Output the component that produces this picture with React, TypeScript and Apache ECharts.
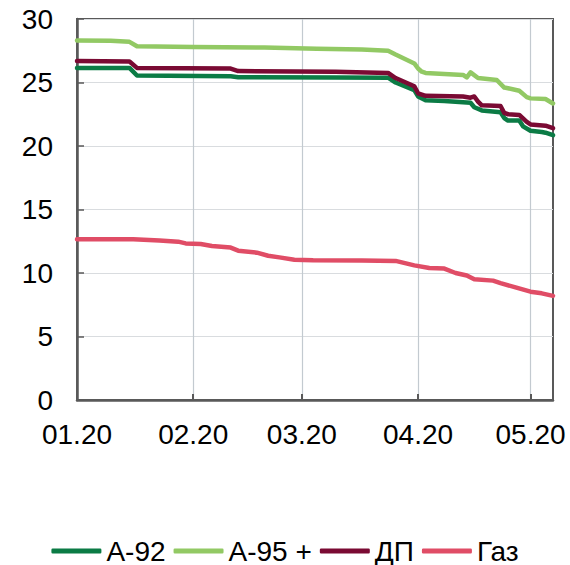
import React, { useEffect, useRef } from "react";
import * as echarts from "echarts";

const monthTicks = ["2020-01-01", "2020-02-01", "2020-03-01", "2020-04-01", "2020-05-01"];
const monthLabels = ["01.20", "02.20", "03.20", "04.20", "05.20"];
const xMin = "2020-01-01";
const xMax = "2020-05-07";
const yMin = 0;
const yMax = 30;
const yStep = 5;

const seriesNames = ["А-92", "А-95 +", "ДП", "Газ"];
const seriesColors = ["#0b7b45", "#92c964", "#7a0a33", "#e04d66"];

const a92: [string, number][] = [
  ["2020-01-01", 26.15], ["2020-01-15", 26.15], ["2020-01-17", 25.55], ["2020-02-11", 25.5],
  ["2020-02-13", 25.42], ["2020-03-10", 25.4], ["2020-03-24", 25.38], ["2020-03-26", 25.0],
  ["2020-03-31", 24.4], ["2020-04-01", 23.9], ["2020-04-03", 23.6], ["2020-04-08", 23.55],
  ["2020-04-15", 23.4], ["2020-04-16", 23.05], ["2020-04-18", 22.8], ["2020-04-23", 22.65],
  ["2020-04-24", 22.2], ["2020-04-25", 22.0], ["2020-04-28", 22.0], ["2020-04-29", 21.55],
  ["2020-05-01", 21.2], ["2020-05-04", 21.1], ["2020-05-05", 21.05], ["2020-05-07", 20.85],
];

const a95: [string, number][] = [
  ["2020-01-01", 28.3], ["2020-01-10", 28.28], ["2020-01-15", 28.2], ["2020-01-17", 27.85],
  ["2020-02-01", 27.8], ["2020-02-20", 27.75], ["2020-03-05", 27.65], ["2020-03-17", 27.6],
  ["2020-03-24", 27.5], ["2020-03-26", 27.2], ["2020-03-31", 26.5], ["2020-04-01", 26.1],
  ["2020-04-02", 25.85], ["2020-04-03", 25.75], ["2020-04-13", 25.6], ["2020-04-14", 25.4],
  ["2020-04-15", 25.8], ["2020-04-17", 25.35], ["2020-04-22", 25.2], ["2020-04-24", 24.6],
  ["2020-04-25", 24.55], ["2020-04-28", 24.35], ["2020-04-30", 23.85], ["2020-05-01", 23.75],
  ["2020-05-05", 23.7], ["2020-05-07", 23.35],
];

const dp: [string, number][] = [
  ["2020-01-01", 26.7], ["2020-01-15", 26.65], ["2020-01-17", 26.15], ["2020-02-11", 26.1],
  ["2020-02-13", 25.9], ["2020-03-10", 25.85], ["2020-03-24", 25.75], ["2020-03-26", 25.35],
  ["2020-03-31", 24.7], ["2020-04-01", 24.15], ["2020-04-03", 23.95], ["2020-04-13", 23.9],
  ["2020-04-15", 23.8], ["2020-04-16", 23.9], ["2020-04-17", 23.5], ["2020-04-18", 23.2],
  ["2020-04-23", 23.15], ["2020-04-24", 22.6], ["2020-04-25", 22.5], ["2020-04-28", 22.45],
  ["2020-04-30", 21.9], ["2020-05-01", 21.7], ["2020-05-05", 21.6], ["2020-05-07", 21.4],
];

const gas: [string, number][] = [
  ["2020-01-01", 12.65], ["2020-01-16", 12.65], ["2020-01-23", 12.55], ["2020-01-28", 12.47],
  ["2020-01-30", 12.33], ["2020-02-03", 12.28], ["2020-02-06", 12.13], ["2020-02-11", 12.0],
  ["2020-02-13", 11.76], ["2020-02-18", 11.6], ["2020-02-21", 11.36], ["2020-02-24", 11.23],
  ["2020-02-28", 11.05], ["2020-03-04", 11.0], ["2020-03-17", 10.98], ["2020-03-26", 10.95],
  ["2020-03-31", 10.6], ["2020-04-04", 10.4], ["2020-04-08", 10.35], ["2020-04-11", 10.0],
  ["2020-04-14", 9.8], ["2020-04-16", 9.5], ["2020-04-21", 9.4], ["2020-04-23", 9.2],
  ["2020-04-27", 8.87], ["2020-05-01", 8.53], ["2020-05-04", 8.4], ["2020-05-07", 8.2],
];

const allSeries = [a92, a95, dp, gas];

const FONT = "'Liberation Sans', Arial, sans-serif";

function ts(s: string): number {
  const [y, m, d] = s.split("-").map(Number);
  return new Date(y, m - 1, d).getTime();
}

export default function App() {
  const ref = useRef<HTMLDivElement>(null);

  useEffect(() => {
    document.body.style.margin = "0";
    if (!ref.current) return;
    const chart = echarts.init(ref.current, undefined, { renderer: "svg" });
    const tickValues = monthTicks.map(ts);
    chart.setOption({
      animation: false,
      textStyle: { fontFamily: FONT },
      grid: {
        left: 77,
        right: 17,
        top: 19,
        bottom: 165,
        show: true,
        borderColor: "#595959",
        borderWidth: 2,
        backgroundColor: "transparent",
      },
      legend: {
        data: seriesNames,
        left: "center",
        top: 537,
        padding: 0,
        icon: "roundRect",
        itemWidth: 50,
        itemHeight: 5,
        itemGap: 8,
        textStyle: { fontSize: 28, color: "#000", fontFamily: FONT, lineHeight: 24 },
      },
      xAxis: {
        type: "value",
        min: ts(xMin),
        max: ts(xMax),
        axisLine: { show: true, lineStyle: { color: "#595959", width: 2.5 } },
        axisTick: { show: true, inside: true, length: 6, customValues: tickValues, lineStyle: { color: "#595959", width: 2 } },
        splitLine: { show: true, lineStyle: { color: "#c3cad0", width: 1.2 } },
        axisLabel: {
          customValues: tickValues,
          fontSize: 28,
          color: "#000",
          fontFamily: FONT,
          margin: 20,
          formatter: (v: number) => monthLabels[new Date(v).getMonth()],
        },
      },
      yAxis: {
        type: "value",
        min: yMin,
        max: yMax,
        interval: yStep,
        axisLine: { show: true, lineStyle: { color: "#595959", width: 2.5 } },
        axisTick: { show: true, inside: true, length: 7, lineStyle: { color: "#595959", width: 1.5 } },
        splitLine: { show: true, lineStyle: { color: "#d9dcdf", width: 1.2 } },
        axisLabel: { fontSize: 28, color: "#000", fontFamily: FONT, margin: 24 },
      },
      series: allSeries.map((data, i) => ({
        name: seriesNames[i],
        type: "line",
        data: data.map(([d, v]) => [ts(d), v]),
        showSymbol: false,
        symbol: "none",
        color: seriesColors[i],
        lineStyle: { width: 4.5, color: seriesColors[i], cap: "round", join: "round" },
      })),
    });
    return () => chart.dispose();
  }, []);

  return <div ref={ref} style={{ width: 570, height: 565 }} />;
}
